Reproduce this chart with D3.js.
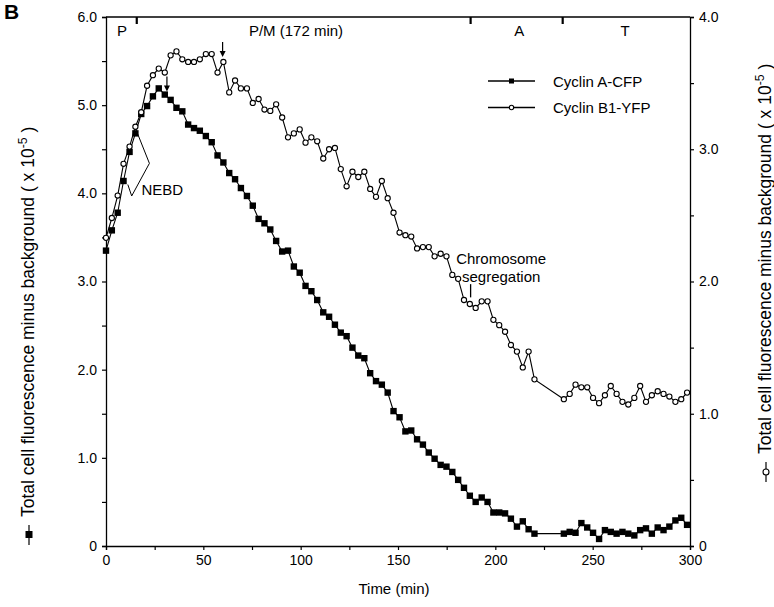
<!DOCTYPE html>
<html>
<head>
<meta charset="utf-8">
<script src="https://cdn.jsdelivr.net/npm/d3@7"></script>
<style>
  body { margin: 0; background: #fff; }
  svg { font-family: "Liberation Sans", Arial, sans-serif; }
</style>
</head>
<body>
<svg width="774" height="607"></svg>
<script>
// sampling times (min); no frames between ~220 and ~235
var times = [0, 3.0, 6.0, 9.0, 12.1, 15.1, 18.1, 21.1, 24.1, 27.1,
  30.2, 33.2, 36.2, 39.2, 42.2, 45.2, 48.2, 51.3, 54.3, 57.3,
  60.3, 63.3, 66.3, 69.3, 72.4, 75.4, 78.4, 81.4, 84.4, 87.4,
  90.5, 93.5, 96.5, 99.5, 102.5, 105.5, 108.5, 111.6, 114.6, 117.6,
  120.6, 123.6, 126.6, 129.6, 132.7, 135.7, 138.7, 141.7, 144.7, 147.7,
  150.8, 153.8, 156.8, 159.8, 162.8, 165.8, 168.8, 171.9, 174.9, 177.9,
  180.9, 183.9, 186.9, 189.9, 193.0, 196.0, 199.0, 202.0, 205.0, 208.0,
  211.1, 214.1, 217.1, 220.1,
  235.2, 238.2, 241.2, 244.2, 247.2, 250.2, 253.3, 256.3, 259.3, 262.3,
  265.3, 268.3, 271.4, 274.4, 277.4, 280.4, 283.4, 286.4, 289.4, 292.5, 295.5, 298.5];

// Cyclin A-CFP, left axis (x 10^-5)
var cyclinA = [3.35, 3.58, 3.78, 4.14, 4.47, 4.68, 4.90, 4.99, 5.10, 5.19,
  5.12, 5.06, 4.97, 4.93, 4.78, 4.74, 4.71, 4.65, 4.58, 4.43,
  4.35, 4.23, 4.16, 4.06, 3.97, 3.86, 3.71, 3.66, 3.59, 3.46,
  3.34, 3.35, 3.17, 3.10, 2.95, 2.89, 2.79, 2.65, 2.60, 2.51,
  2.42, 2.38, 2.25, 2.16, 2.13, 1.96, 1.87, 1.83, 1.74, 1.53,
  1.46, 1.30, 1.31, 1.21, 1.15, 1.06, 0.99, 0.92, 0.90, 0.84,
  0.75, 0.66, 0.57, 0.50, 0.55, 0.50, 0.38, 0.38, 0.37, 0.31,
  0.22, 0.28, 0.19, 0.14,
  0.14, 0.16, 0.15, 0.26, 0.21, 0.15, 0.08, 0.18, 0.16, 0.14,
  0.16, 0.14, 0.12, 0.18, 0.20, 0.14, 0.21, 0.18, 0.22, 0.29, 0.32, 0.24];

// Cyclin B1-YFP, right axis (x 10^-5)
var cyclinB = [2.33, 2.48, 2.65, 2.89, 3.02, 3.17, 3.28, 3.48, 3.56, 3.61,
  3.58, 3.71, 3.74, 3.68, 3.66, 3.66, 3.68, 3.72, 3.72, 3.58,
  3.66, 3.43, 3.52, 3.46, 3.46, 3.35, 3.38, 3.30, 3.29, 3.34,
  3.24, 3.09, 3.12, 3.15, 3.05, 3.09, 3.06, 2.93, 3.00, 3.01,
  2.85, 2.72, 2.83, 2.79, 2.83, 2.70, 2.64, 2.76, 2.63, 2.52,
  2.37, 2.35, 2.34, 2.25, 2.26, 2.26, 2.19, 2.21, 2.19, 2.05,
  2.02, 1.86, 1.83, 1.80, 1.85, 1.85, 1.71, 1.67, 1.62, 1.52,
  1.47, 1.35, 1.47, 1.26,
  1.11, 1.15, 1.22, 1.20, 1.20, 1.12, 1.08, 1.14, 1.21, 1.15,
  1.09, 1.07, 1.12, 1.21, 1.09, 1.14, 1.17, 1.15, 1.13, 1.09, 1.11, 1.16];

var xTicks = [0, 50, 100, 150, 200, 250, 300];
var leftTicks = [0, 1, 2, 3, 4, 5, 6];
var rightTicks = [0, 1, 2, 3, 4];

// mitotic phases along the top
var phaseBounds = [15.8, 187.3, 234.6];
var phaseNames = ["P", "P/M (172 min)", "A", "T"];
var phaseCenters = [8.2, 97.6, 212.3, 266.6];

var svg = d3.select("svg");
var mLeft = 106, mRight = 690, mTop = 17, mBottom = 546;

var x = d3.scaleLinear().domain([0, 300]).range([mLeft, mRight]);
var yL = d3.scaleLinear().domain([0, 6]).range([mBottom, mTop]);
var yR = d3.scaleLinear().domain([0, 4]).range([mBottom, mTop]);

var fmt = function(d) { return d === 0 ? "0" : d3.format(".1f")(d); };

// axes
var xAxis = svg.append("g")
    .attr("transform", "translate(0," + mBottom + ")")
    .call(d3.axisBottom(x).tickValues(d3.range(0, 301, 25)).tickSize(4)
        .tickFormat(function(d) { return xTicks.indexOf(d) >= 0 ? d : ""; }).tickPadding(5));
var lAxis = svg.append("g")
    .attr("transform", "translate(" + mLeft + ",0)")
    .call(d3.axisLeft(yL).tickValues(d3.range(0, 6.01, 0.5)).tickSize(4)
        .tickFormat(function(d) { return leftTicks.indexOf(d) >= 0 ? fmt(d) : ""; }).tickPadding(5));
var rAxis = svg.append("g")
    .attr("transform", "translate(" + mRight + ",0)")
    .call(d3.axisRight(yR).tickValues(d3.range(0, 4.01, 0.5)).tickSize(4)
        .tickFormat(function(d) { return rightTicks.indexOf(d) >= 0 ? fmt(d) : ""; }).tickPadding(5));

[xAxis, lAxis, rAxis].forEach(function(g) {
    g.select(".domain").attr("stroke-width", 1.3);
    g.selectAll(".tick line").attr("stroke-width", 1.2);
    g.selectAll("text").attr("font-size", 14).attr("fill", "#000")
     .attr("font-family", "'Liberation Sans', Arial, sans-serif");
});

// top border
svg.append("line")
   .attr("x1", mLeft).attr("x2", mRight)
   .attr("y1", mTop).attr("y2", mTop)
   .attr("stroke", "#000").attr("stroke-width", 1.3);

// phase markers
svg.selectAll(".phase-tick").data(phaseBounds).enter()
   .append("line")
   .attr("x1", function(d) { return x(d); })
   .attr("x2", function(d) { return x(d); })
   .attr("y1", mTop).attr("y2", mTop + 7)
   .attr("stroke", "#000").attr("stroke-width", 2.2);
svg.selectAll(".phase-label").data(phaseNames).enter()
   .append("text")
   .attr("x", function(d, i) { return x(phaseCenters[i]); })
   .attr("y", mTop + 19)
   .attr("text-anchor", "middle")
   .attr("font-size", 15)
   .text(function(d) { return d; });

// series
var ptsA = times.map(function(t, i) { return [t, cyclinA[i]]; });
var ptsB = times.map(function(t, i) { return [t, cyclinB[i]]; });

svg.append("path").datum(ptsB)
   .attr("fill", "none").attr("stroke", "#000").attr("stroke-width", 1.1)
   .attr("d", d3.line().x(function(d) { return x(d[0]); }).y(function(d) { return yR(d[1]); }));
svg.append("path").datum(ptsA)
   .attr("fill", "none").attr("stroke", "#000").attr("stroke-width", 1.1)
   .attr("d", d3.line().x(function(d) { return x(d[0]); }).y(function(d) { return yL(d[1]); }));

svg.append("g").selectAll("rect").data(ptsA).enter()
   .append("rect")
   .attr("x", function(d) { return x(d[0]) - 3.2; })
   .attr("y", function(d) { return yL(d[1]) - 3.2; })
   .attr("width", 6.4).attr("height", 6.4)
   .attr("fill", "#000");
svg.append("g").selectAll("circle").data(ptsB).enter()
   .append("circle")
   .attr("cx", function(d) { return x(d[0]); })
   .attr("cy", function(d) { return yR(d[1]); })
   .attr("r", 2.6)
   .attr("fill", "#fff").attr("stroke", "#000").attr("stroke-width", 1.1);

// arrows at the peaks
function arrow(px, py) {
    svg.append("line").attr("x1", px).attr("x2", px).attr("y1", py - 15).attr("y2", py - 4)
       .attr("stroke", "#000").attr("stroke-width", 1.2);
    svg.append("path")
       .attr("d", "M" + (px - 3) + "," + (py - 6) + "L" + (px + 3) + "," + (py - 6) + "L" + px + "," + py + "Z")
       .attr("fill", "#000");
}
arrow(x(31.3), yL(5.12) - 3);
arrow(x(59.9), yR(3.66) - 5);

// NEBD bracket
svg.append("path")
   .attr("d", d3.line()([
       [x(11.2), yL(4.1)], [x(13.2), yL(3.97)], [x(22.3), yL(4.34)], [x(15.8), yL(4.7)]
   ]))
   .attr("fill", "none").attr("stroke", "#000").attr("stroke-width", 1);
svg.append("text").attr("x", x(18.2)).attr("y", yL(3.98))
   .attr("font-size", 15).text("NEBD");

// chromosome segregation
svg.append("text").attr("x", x(203)).attr("y", yR(2.13))
   .attr("text-anchor", "middle").attr("font-size", 15).text("Chromosome");
svg.append("text").attr("x", x(203)).attr("y", yR(2.0))
   .attr("text-anchor", "middle").attr("font-size", 15).text("segregation");
svg.append("line").attr("x1", x(187.3)).attr("x2", x(187.3))
   .attr("y1", yR(1.98)).attr("y2", yR(1.88))
   .attr("stroke", "#000").attr("stroke-width", 1.3);

// legend
var legend = svg.append("g").attr("transform", "translate(488,81)");
legend.append("line").attr("x1", 0).attr("x2", 47).attr("y1", 0).attr("y2", 0)
      .attr("stroke", "#000").attr("stroke-width", 1.6);
legend.append("rect").attr("x", 21).attr("y", -2.5).attr("width", 5).attr("height", 5).attr("fill", "#000");
legend.append("text").attr("x", 65).attr("y", 5.5).attr("font-size", 15).text("Cyclin A-CFP");
legend.append("line").attr("x1", 0).attr("x2", 47).attr("y1", 26.5).attr("y2", 26.5)
      .attr("stroke", "#000").attr("stroke-width", 1.6);
legend.append("circle").attr("cx", 23.5).attr("cy", 26.5).attr("r", 2.2)
      .attr("fill", "#fff").attr("stroke", "#000").attr("stroke-width", 1.1);
legend.append("text").attr("x", 65).attr("y", 32).attr("font-size", 15).text("Cyclin B1-YFP");

// axis titles
svg.append("text").attr("x", (mLeft + mRight) / 2 - 4).attr("y", 594)
   .attr("text-anchor", "middle").attr("font-size", 15).text("Time (min)");

function yTitle(cx, cy, marker, size) {
    var g = svg.append("g").attr("transform", "translate(" + cx + "," + cy + ") rotate(-90)");
    g.append("line").attr("x1", 0).attr("x2", 20).attr("y1", -5).attr("y2", -5)
     .attr("stroke", "#000").attr("stroke-width", 1.2);
    if (marker === "square") {
        g.append("rect").attr("x", 7).attr("y", -8.5).attr("width", 7).attr("height", 7).attr("fill", "#000");
    } else {
        g.append("circle").attr("cx", 10).attr("cy", -5).attr("r", 3)
         .attr("fill", "#fff").attr("stroke", "#000").attr("stroke-width", 1.1);
    }
    var t = g.append("text").attr("x", 28).attr("y", 0).attr("font-size", size);
    t.append("tspan").text("Total cell fluorescence minus background ( x 10");
    t.append("tspan").attr("dy", -7).attr("font-size", size * 0.7).text("-5");
    t.append("tspan").attr("dy", 7).text(" )");
}
yTitle(34, 545, "square", 17.5);
yTitle(771, 482, "circle", 17.5);

// panel letter
svg.append("text").attr("x", 4).attr("y", 19).attr("font-size", 21)
   .attr("font-weight", "bold").text("B");
</script>
</body>
</html>
